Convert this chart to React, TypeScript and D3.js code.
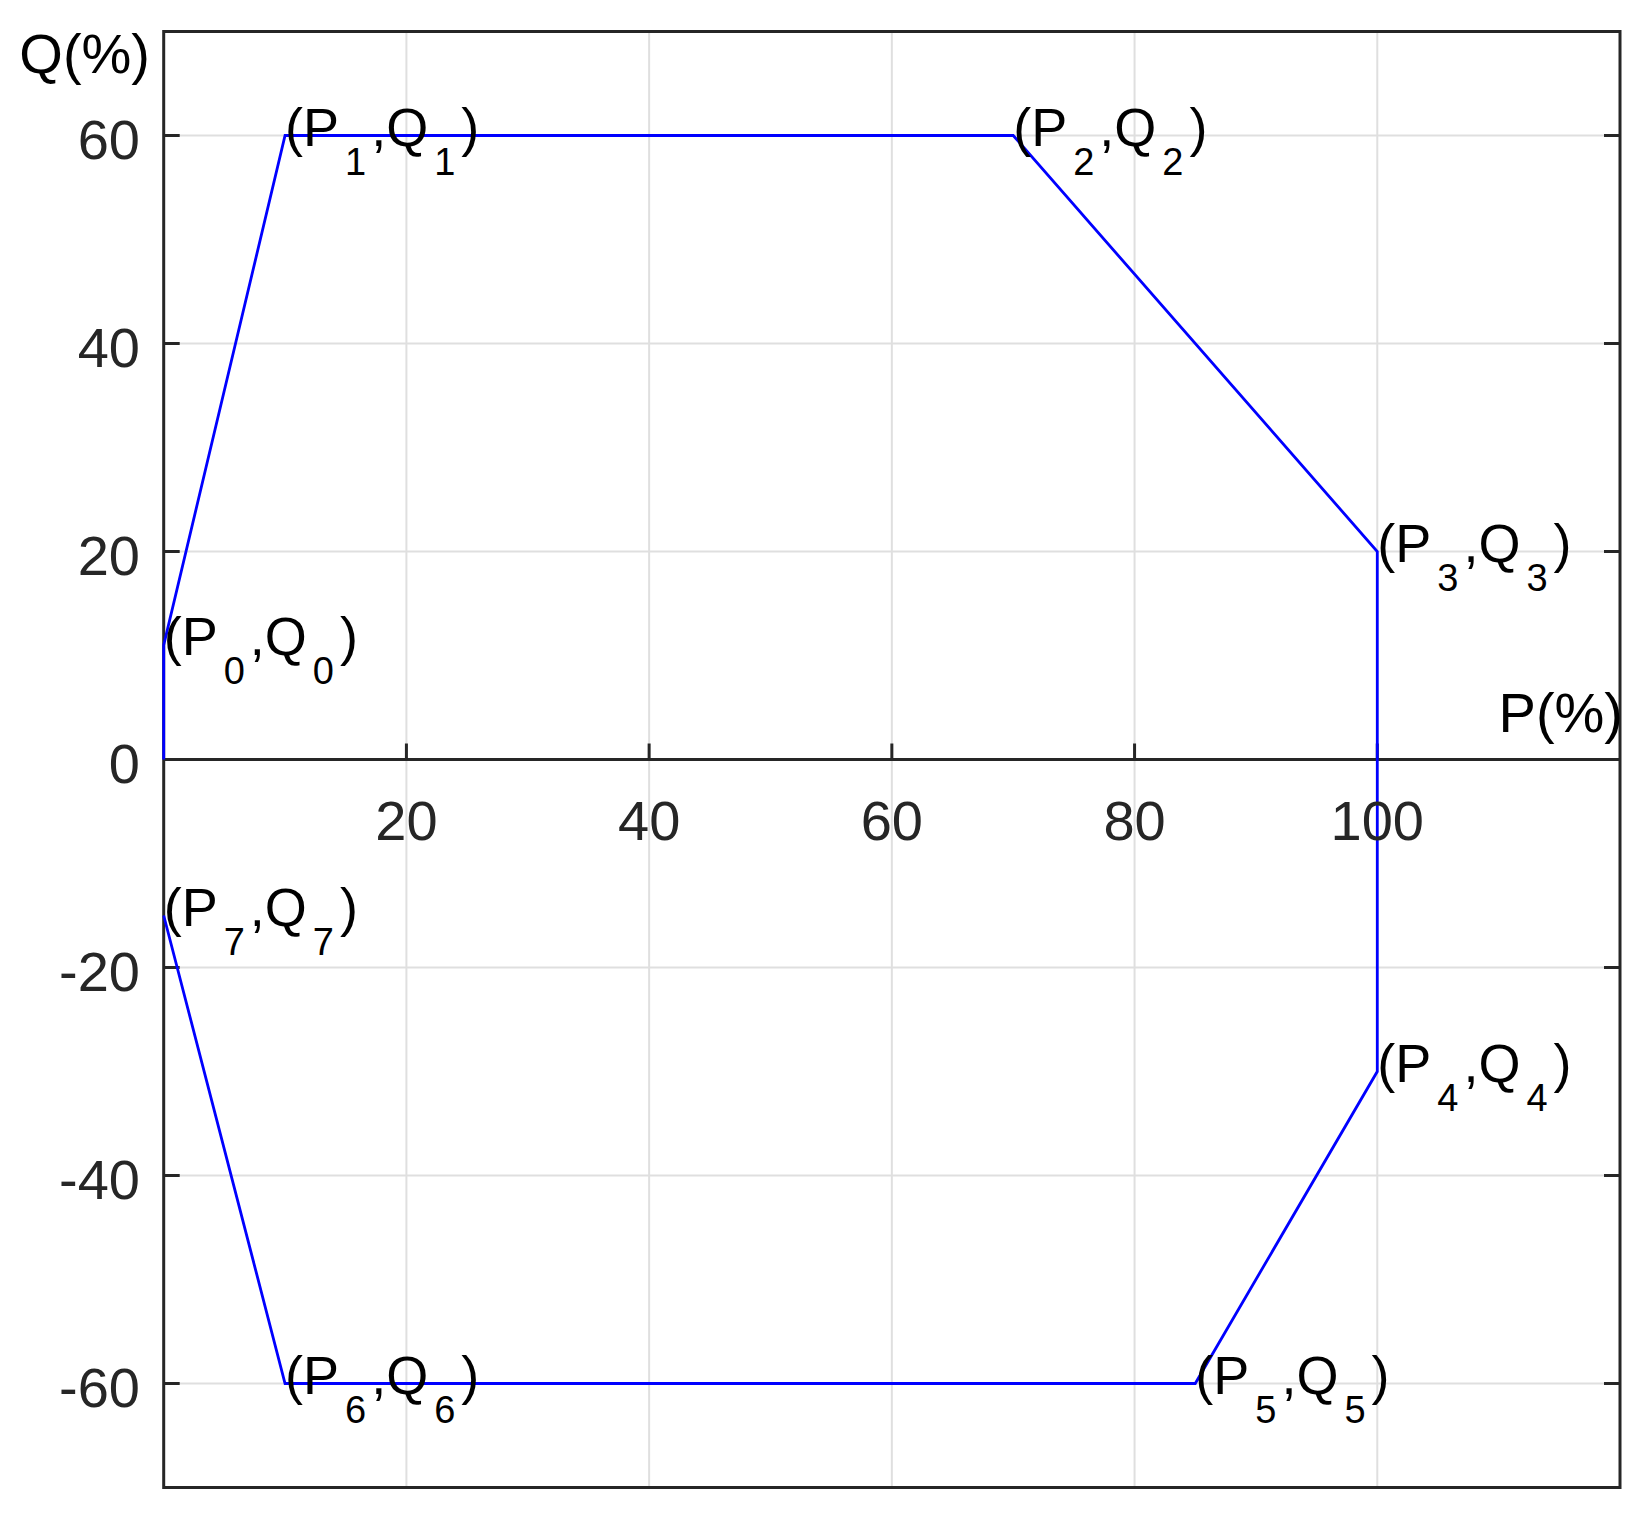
import React from "react";
import * as d3 from "d3";

// Data
const P = [0, 10, 70, 100, 100, 85, 10, 0];
const Q = [11, 60, 60, 20, -30, -60, -60, -15];
const startPoint = [0, 0];
const xTicks = [20, 40, 60, 80, 100];
const xGrid = [20, 40, 60, 80, 100];
const yTicks = [-60, -40, -20, 0, 20, 40, 60];
const xDomain = [0, 120];
const yDomain = [-70, 70];
const xLabel = "P(%)";
const yLabel = "Q(%)";

const W = 1651;
const H = 1517;
const left = 163.7;
const right = 1620;
const top = 31.5;
const bottom = 1487.5;

const AX = "#262626";
const FONT = "'Liberation Sans', Arial, sans-serif";

export default function App() {
  const x = d3.scaleLinear().domain(xDomain).range([left, right]);
  const y = d3.scaleLinear().domain(yDomain).range([bottom, top]);
  const pts: [number, number][] = [startPoint as [number, number], ...P.map((p, i) => [p, Q[i]] as [number, number])];
  const line = d3
    .line<[number, number]>()
    .x((d) => x(d[0]))
    .y((d) => y(d[1]));
  const y0 = y(0);
  const tickLen = 16;

  return (
    <svg width={W} height={H} style={{ position: "absolute", left: 0, top: 0, background: "#fff" }} fontFamily={FONT}>
      <rect x={0} y={0} width={W} height={H} fill="#fff" />
      {/* grid */}
      {xGrid.map((t) => (
        <line key={"gx" + t} x1={x(t)} x2={x(t)} y1={top} y2={bottom} stroke="#dfdfdf" strokeWidth={2} />
      ))}
      {yTicks.filter((t) => t !== 0).map((t) => (
        <line key={"gy" + t} x1={left} x2={right} y1={y(t)} y2={y(t)} stroke="#dfdfdf" strokeWidth={2} />
      ))}
      {/* box */}
      <rect x={left} y={top} width={right - left} height={bottom - top} fill="none" stroke={AX} strokeWidth={3} />
      {/* x axis at origin */}
      <line x1={left} x2={right} y1={y0} y2={y0} stroke={AX} strokeWidth={3} />
      {xTicks.map((t) => (
        <line key={"xt" + t} x1={x(t)} x2={x(t)} y1={y0} y2={y0 - tickLen} stroke={AX} strokeWidth={3} />
      ))}
      {yTicks.map((t) => (
        <g key={"yt" + t}>
          <line x1={left} x2={left + tickLen} y1={y(t)} y2={y(t)} stroke={AX} strokeWidth={3} />
          <line x1={right} x2={right - tickLen} y1={y(t)} y2={y(t)} stroke={AX} strokeWidth={3} />
        </g>
      ))}
      {/* curve */}
      <path d={line(pts) || ""} fill="none" stroke="#0000ff" strokeWidth={2.8} strokeLinejoin="miter" />
      {/* tick labels */}
      {xTicks.map((t) => (
        <text key={"xl" + t} x={x(t)} y={y0 + 80} textAnchor="middle" fontSize={56} fill={AX}>
          {t}
        </text>
      ))}
      {yTicks.map((t) => (
        <text key={"yl" + t} x={140} y={y(t) + 23} textAnchor="end" fontSize={56} fill={AX}>
          {t}
        </text>
      ))}
      {/* axis labels */}
      <text x={150} y={73} textAnchor="end" fontSize={56} fill="#000">
        {yLabel}
      </text>
      <text x={1623} y={732} textAnchor="end" fontSize={56} fill="#000">
        {xLabel}
      </text>
      {/* point labels */}
      {P.map((p, i) => {
        const px = x(p);
        const py = y(Q[i]) + 10;
        return (
          <text key={"pl" + i} x={px} y={py} fontSize={54} fill="#000">
            <tspan>(P</tspan>
            <tspan dx={6} dy={29} fontSize={38}>{i}</tspan>
            <tspan dx={5} dy={-29}>,Q</tspan>
            <tspan dx={6} dy={29} fontSize={38}>{i}</tspan>
            <tspan dx={6} dy={-29}>)</tspan>
          </text>
        );
      })}
    </svg>
  );
}
